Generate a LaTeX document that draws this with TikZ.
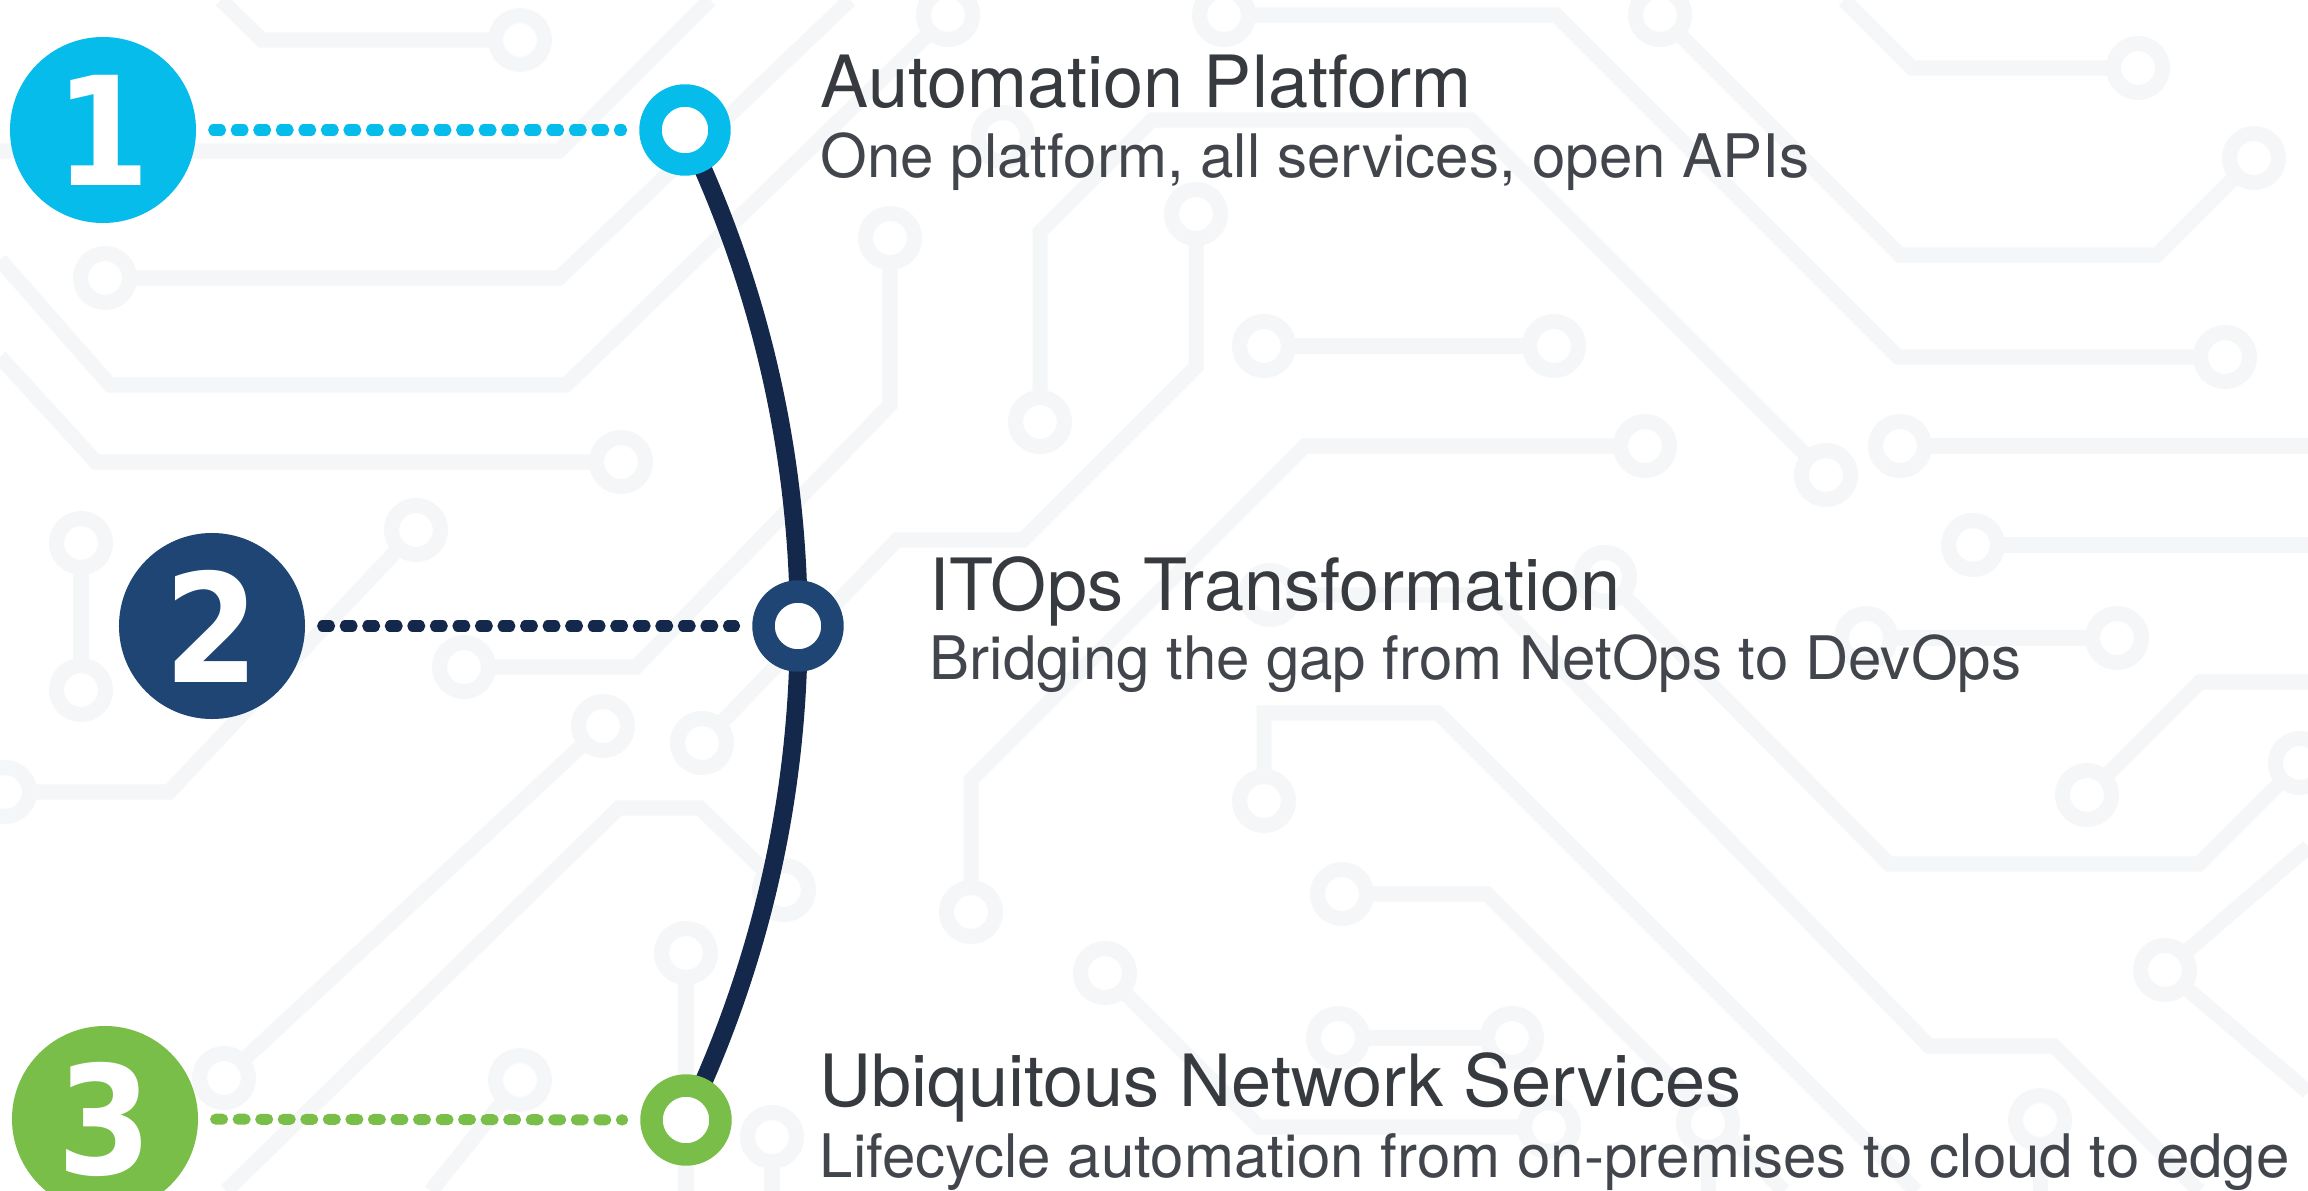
\documentclass[tikz,border=0pt]{standalone}
\usepackage{fontspec}
\setmainfont{TeX Gyre Heros}
\newfontfamily\numfont{DejaVu Sans Condensed}
\usepackage{tikz}
\usetikzlibrary{positioning}

\definecolor{ciscocyan}{RGB}{5,188,234}
\definecolor{ciscoblue}{RGB}{30,69,115}
\definecolor{cisconavy}{RGB}{20,40,75}
\definecolor{ciscogreen}{RGB}{120,190,72}
\definecolor{textgray}{RGB}{55,59,64}
\definecolor{subgray}{RGB}{66,70,76}
\definecolor{tracegray}{RGB}{245,246,248}

\begin{document}
\begin{tikzpicture}[x=0.01cm,y=-0.01cm,
  trace/.style={draw=tracegray,line width=4.27pt},
  pad/.style={draw=tracegray,line width=4.27pt,fill=white},
  numdisc/.style={circle,fill=#1,minimum size=52.9pt,inner sep=0pt,outer sep=0pt,text=white,font=\numfont\bfseries\fontsize{43}{43}\selectfont},
  ringdot/.style={circle,draw=#1,line width=6.4pt,fill=white,minimum size=19.6pt,inner sep=0pt},
  dotline/.style={draw=#1,line width=3.13pt,line cap=round,dash pattern=on 2pt off 4.41pt,shorten <=5pt,shorten >=5pt},
  spine/.style={draw=cisconavy,line width=5.1pt},
  title/.style={anchor=base west,inner sep=0pt,text=textgray,font=\fontsize{20.5}{24}\selectfont},
  subtitle/.style={anchor=base west,inner sep=0pt,text=subgray,font=\fontsize{17.07}{20}\selectfont}]
\fill[white] (0,0) rectangle (2308,1191);
\useasboundingbox (0,0) rectangle (2308,1191);

% circuit board in the back
\draw[trace] (221,0) -- (262,40) -- (520,40);
\draw[trace] (0,151) -- (559,151) -- (710,0);
\draw[trace] (105,278) -- (559,278) -- (850,0);
\draw[trace] (0,260) -- (110,385) -- (566,385) -- (948,15);
\draw[trace] (0,357) -- (96,462) -- (621,462);
\draw[trace] (81,543) -- (81,690);
\draw[trace] (416,530) -- (169,792) -- (5,792);
\draw[trace] (464,667) -- (636,667) -- (890,405) -- (890,238);
\draw[trace] (1196,214) -- (1196,367) -- (1023,540) -- (897,540) -- (702,743);
\draw[trace] (1040,422) -- (1040,232) -- (1152,120) -- (1471,120) -- (1826,475);
\draw[trace] (1224,15) -- (1556,15) -- (1898,357) -- (2225,357);
\draw[trace] (1660,15) -- (1900,255) -- (2157,255) -- (2254,158);
\draw[trace] (1844,0) -- (1912,68) -- (2138,68);
\draw[trace] (1264,346) -- (1554,346);
\draw[trace] (1645,446) -- (1305,446) -- (971,780) -- (971,912);
\draw[trace] (1270,595) -- (1490,595) -- (1929,1046) -- (2054,1046) -- (2199,1191);
\draw[trace] (1900,446) -- (2308,446);
\draw[trace] (1973,545) -- (2308,545);
\draw[trace] (1866,638) -- (2117,638);
\draw[trace] (2087,795) -- (2200,682) -- (2308,682);
\draw[trace] (1605,577) -- (1889,864) -- (2199,864) -- (2300,763);
\draw[trace] (1264,801) -- (1264,713) -- (1438,713) -- (1916,1191);
\draw[trace] (1342,894) -- (1487,894) -- (1784,1191);
\draw[trace] (1338,1038) -- (1512,1038);
\draw[trace] (1105,973) -- (1259,1127) -- (1549,1127);
\draw[trace] (2308,847) -- (2165,970) -- (2308,1092);
\draw[trace] (603,726) -- (224,1078);
\draw[trace] (226,1191) -- (619,808) -- (700,808) -- (784,890);
\draw[trace] (686,953) -- (686,1191);
\draw[trace] (520,1080) -- (431,1191);
\draw[trace] (772,1137) -- (772,1191);
\draw[trace] (1708,1123) -- (1708,1191);
\draw[trace] (2040,1120) -- (2040,1191);
\draw[pad] (520,40) circle (24.5) (105,278) circle (24.5) (948,15) circle (24.5)
  (621,462) circle (24.5) (81,543) circle (24.5) (81,690) circle (24.5)
  (416,530) circle (24.5) (5,792) circle (24.5) (464,667) circle (24.5)
  (890,238) circle (24.5) (1196,214) circle (24.5) (702,743) circle (24.5)
  (1040,422) circle (24.5) (1826,475) circle (24.5) (1224,15) circle (24.5)
  (2225,357) circle (24.5) (1660,15) circle (24.5) (2254,158) circle (24.5)
  (2138,68) circle (24.5) (1264,346) circle (24.5) (1554,346) circle (24.5)
  (1645,446) circle (24.5) (971,912) circle (24.5) (1900,446) circle (24.5)
  (1973,545) circle (24.5) (1866,638) circle (24.5) (2117,638) circle (24.5)
  (2087,795) circle (24.5) (1605,577) circle (24.5) (2300,763) circle (24.5)
  (1264,801) circle (24.5) (1342,894) circle (24.5) (1338,1038) circle (24.5)
  (1512,1038) circle (24.5) (1105,973) circle (24.5) (1549,1127) circle (24.5)
  (2165,970) circle (24.5) (603,726) circle (24.5) (224,1078) circle (24.5)
  (784,890) circle (24.5) (686,953) circle (24.5) (520,1080) circle (24.5)
  (772,1137) circle (24.5) (1708,1123) circle (24.5) (2040,1120) circle (24.5)
  (1003,137) circle (24.5) (1270,595) circle (24.5);

% the bent spine through the three stops
\coordinate (p1) at (685,130);
\coordinate (p2) at (798,626);
\coordinate (p3) at (686,1120);
\draw[spine] (p1) to[bend left=25.76,looseness=0.9] (p3);

\node[numdisc=ciscocyan] (num1) at (103,130) {1};
\node[numdisc=ciscoblue] (num2) at (212,626) {2};
\node[numdisc=ciscogreen] (num3) at (105,1119) {3};
\node[ringdot=ciscocyan] (dot1) at (p1) {};
\node[ringdot=ciscoblue] (dot2) at (p2) {};
\node[ringdot=ciscogreen] (dot3) at (p3) {};

\draw[dotline=ciscocyan] (num1) -- (dot1);
\draw[dotline=cisconavy] (num2) -- (dot2);
\draw[dotline=ciscogreen] (num3) -- (dot3);

\node[title] (head1) at (820,108) {Automation Platform};
\node[subtitle] (sub1) at (820,178) {One platform, all services, open APIs};
\node[title] (head2) at (929,610) {ITOps Transformation};
\node[subtitle] (sub2) at (929,679) {Bridging the gap from NetOps to DevOps};
\node[title] (head3) at (819,1106) {Ubiquitous Network Services};
\node[subtitle] (sub3) at (819,1177) {Lifecycle automation from on-premises to cloud to edge};
\end{tikzpicture}
\end{document}
